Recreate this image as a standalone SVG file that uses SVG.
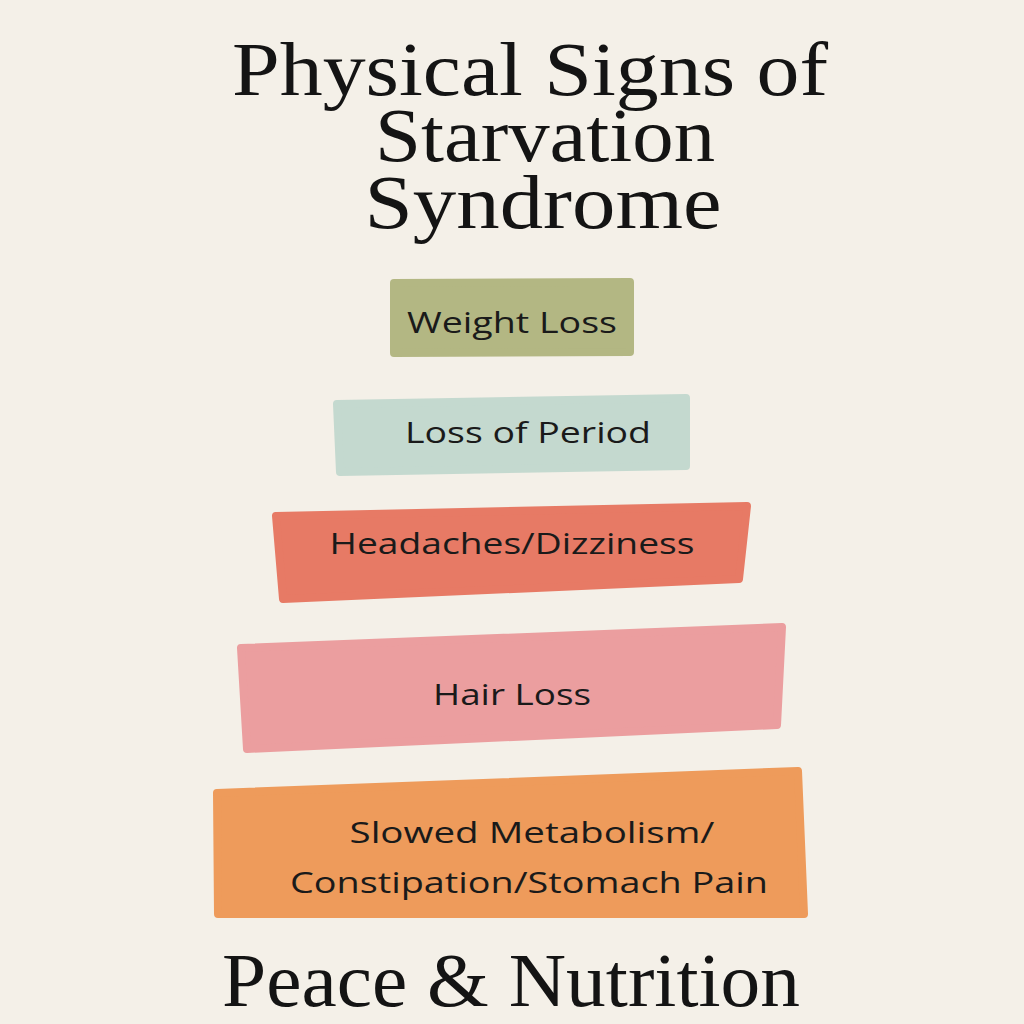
<svg xmlns="http://www.w3.org/2000/svg" width="1024" height="1024" viewBox="0 0 1024 1024">
<style>
.bg{fill:#f4f0e8}
.title{font-family:"Liberation Serif","Times New Roman",serif;font-size:76px;fill:#141414;text-anchor:middle}
.box{stroke-width:8;stroke-linejoin:round}
.lbl{font-family:"Open Sans","Noto Sans",sans-serif;font-size:30px;fill:#1a1a1a;text-anchor:middle}
</style>
<rect class="bg" x="0" y="0" width="1024" height="1024"/>
<g id="title">
<text class="title" x="530" y="95" textLength="596" lengthAdjust="spacingAndGlyphs">Physical Signs of</text>
<text class="title" x="545" y="161" textLength="340" lengthAdjust="spacingAndGlyphs">Starvation</text>
<text class="title" x="543" y="228" textLength="357" lengthAdjust="spacingAndGlyphs">Syndrome</text>
</g>
<g id="node-weight-loss">
<polygon class="box" fill="#b3b783" stroke="#b3b783" points="394,283 630,282 630,352 394,353"/>
<text class="lbl" x="512" y="333" textLength="210" lengthAdjust="spacingAndGlyphs">Weight Loss</text>
</g>
<g id="node-loss-of-period">
<polygon class="box" fill="#c4d9cf" stroke="#c4d9cf" points="337,404 686,398 686,466 340,472"/>
<text class="lbl" x="528" y="443" textLength="246" lengthAdjust="spacingAndGlyphs">Loss of Period</text>
</g>
<g id="node-headaches">
<polygon class="box" fill="#e77a65" stroke="#e77a65" points="276,516 747,506 739,579 283,599"/>
<text class="lbl" x="512" y="554" textLength="365" lengthAdjust="spacingAndGlyphs">Headaches/Dizziness</text>
</g>
<g id="node-hair-loss">
<polygon class="box" fill="#eb9e9f" stroke="#eb9e9f" points="241,648 782,627 777,725 247,749"/>
<text class="lbl" x="512" y="705" textLength="158" lengthAdjust="spacingAndGlyphs">Hair Loss</text>
</g>
<g id="node-slowed-metabolism">
<polygon class="box" fill="#ee9b5b" stroke="#ee9b5b" points="217,793 798,771 804,914 218,914"/>
<text class="lbl" x="532" y="843" textLength="365" lengthAdjust="spacingAndGlyphs">Slowed Metabolism/</text>
<text class="lbl" x="529" y="893" textLength="478" lengthAdjust="spacingAndGlyphs">Constipation/Stomach Pain</text>
</g>
<g id="footer">
<text class="title" x="511" y="1006" textLength="578" lengthAdjust="spacingAndGlyphs">Peace &amp; Nutrition</text>
</g>
</svg>
